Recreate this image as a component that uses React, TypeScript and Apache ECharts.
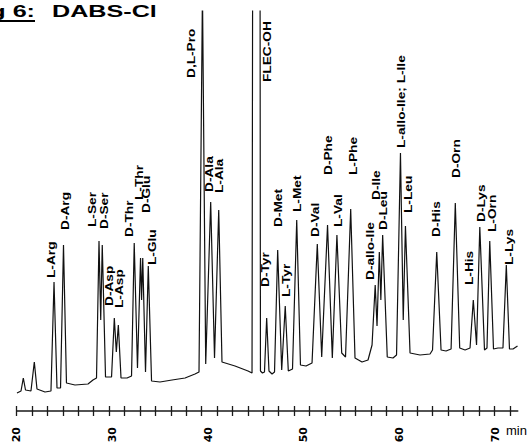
import React, { useEffect, useRef } from "react";
import * as echarts from "echarts";

// Retention time (min) and detector response (arbitrary units)
const times = [
  20.03, 20.45, 20.69, 20.92, 21.49, 21.84, 22.12, 22.96, 23.58, 23.9, 24.21, 24.58, 24.89, 25.2,
  26.09, 27.45, 27.97, 28.34, 28.6, 28.78, 28.94, 29.28, 29.91, 30.2, 30.41, 30.62, 30.9, 31.53,
  32.0, 32.28, 32.62, 32.94, 33.05, 33.17, 33.46, 33.75, 34.09, 34.97, 36.23, 37.59, 38.63, 39.05,
  39.41, 39.75, 40.27, 40.67, 41.11, 41.45, 42.81, 44.17, 44.59, 44.74, 45.37, 45.47, 45.68, 45.89,
  46.12, 46.36, 46.68, 46.94, 47.27, 47.69, 48.06, 48.38, 48.82, 49.26, 49.65, 50.23, 50.86, 51.41,
  51.87, 52.48, 52.98, 53.46, 53.96, 54.36, 54.9, 55.35, 56.08, 56.71, 57.13, 57.46, 57.65, 57.89,
  58.05, 58.24, 58.72, 59.32, 59.69, 60.1, 60.39, 60.62, 61.1, 62.14, 63.19, 63.45, 63.89, 64.34,
  64.86, 65.39, 65.83, 66.29, 66.85, 67.37, 67.71, 68.05, 68.39, 68.88, 69.14, 69.43, 69.82, 70.29,
  70.81, 71.16, 71.49, 71.86, 72.33,
];
const signal = [
  18, 20, 33, 21, 20, 49, 22, 19, 20, 129, 23, 23, 166, 28,
  26, 27, 31, 33, 170, 91, 166, 34, 34, 93, 59, 86, 33, 33,
  35, 168, 43, 153, 111, 153, 39, 145, 30, 29, 31, 33, 37, 39,
  420, 47, 209, 53, 201, 49, 45, 40, 38, 1000, 1000, 40, 38, 39,
  93, 40, 37, 39, 161, 41, 105, 40, 42, 191, 46, 45, 48, 167,
  54, 186, 53, 176, 58, 54, 202, 53, 49, 51, 66, 126, 85, 159,
  111, 176, 54, 53, 56, 258, 91, 185, 58, 56, 57, 61, 159, 61,
  60, 62, 208, 63, 61, 63, 111, 66, 184, 61, 63, 170, 62, 63,
  63, 146, 62, 62, 65,
];

// Peak annotations: name, and where its label starts (time, response)
const peakNames = [
  "L-Arg", "D-Arg", "L-Ser", "D-Ser", "D-Asp", "L-Asp", "D-Thr", "L-Thr", "D-Glu", "L-Glu",
  "D,L-Pro", "D-Ala", "L-Ala", "FLEC-OH", "D-Tyr", "D-Met", "L-Tyr", "L-Met", "D-Val", "D-Phe",
  "L-Val", "L-Phe", "D-allo-Ile", "D-Ile", "D-Leu", "L-allo-Ile; L-Ile", "L-Leu", "D-His", "D-Orn",
  "L-His", "D-Lys", "L-Orn", "L-Lys",
];
const labelTimes = [
  23.64, 25.15, 27.97, 29.23, 29.75, 30.79, 31.79, 32.83, 33.56, 34.19,
  38.29, 40.15, 41.24, 46.26, 46.05, 47.33, 48.24, 49.34, 51.27, 52.56,
  53.65, 55.24, 57.02, 57.65, 58.38, 60.23, 60.92, 63.89, 65.98,
  67.29, 68.59, 69.74, 71.47,
];
const labelLevels = [
  133, 181, 184, 182, 105, 103, 174, 211, 198, 146,
  333, 219, 218, 329, 124, 184, 114, 199, 174, 236,
  184, 236, 131, 211, 181, 263, 198, 174, 233,
  126, 189, 179, 146,
];

const xLabelValues = [20, 30, 40, 50, 60, 70];
const TICK_START = 20;
const TICK_STEP = 1.61;
const TICK_COUNT = 33;
const tickValues = Array.from({ length: TICK_COUNT }, (_, k) => +(TICK_START + k * TICK_STEP).toFixed(3));

const FONT = "'Liberation Sans', Arial, Helvetica, sans-serif";

export default function App() {
  const ref = useRef<HTMLDivElement>(null);
  useEffect(() => {
    if (!ref.current) return;
    const chart = echarts.init(ref.current, null, { renderer: "svg" });
    const X_MIN = 20;
    const X_MAX = 72.35;
    chart.setOption({
      animation: false,
      backgroundColor: "#ffffff",
      grid: { left: 16.7, right: 11.3, top: 11, bottom: 32, containLabel: false, outerBoundsMode: "none" },
      xAxis: [
        {
          type: "value",
          min: X_MIN,
          max: X_MAX,
          position: "bottom",
          axisLine: { show: true, onZero: false, lineStyle: { color: "#1a1a1a", width: 1.6 } },
          axisTick: { show: true, inside: false, length: 5, customValues: tickValues, lineStyle: { color: "#1a1a1a", width: 1.3 } },
          axisLabel: {
            show: true,
            customValues: xLabelValues,
            rotate: 90,
            margin: 16,
            color: "#000",
            fontFamily: "'DejaVu Sans', sans-serif",
            fontWeight: "bold",
            fontSize: 11,
          },
          splitLine: { show: false },
        },
        {
          type: "value",
          min: X_MIN,
          max: X_MAX,
          position: "bottom",
          axisLine: { show: false, onZero: false },
          axisTick: { show: true, inside: true, length: 5, customValues: tickValues, lineStyle: { color: "#1a1a1a", width: 1.3 } },
          axisLabel: { show: false },
          splitLine: { show: false },
        },
      ],
      yAxis: { type: "value", min: 0, max: 400, show: false, splitLine: { show: false } },
      series: [
        {
          type: "line",
          xAxisIndex: 0,
          data: times.map((t, i) => [t, signal[i]]),
          showSymbol: false,
          symbol: "none",
          clip: true,
          silent: true,
          lineStyle: { color: "#111", width: 1.2 },
        },
        {
          type: "custom",
          xAxisIndex: 0,
          silent: true,
          data: labelTimes.map((t, i) => [t, labelLevels[i]]),
          renderItem: (params: any, api: any) => {
            const p = api.coord([api.value(0), api.value(1)]);
            return {
              type: "text",
              x: p[0],
              y: p[1],
              rotation: Math.PI / 2,
              scaleX: 1.37,
              scaleY: 1,
              style: {
                text: peakNames[params.dataIndex],
                fontFamily: FONT,
                fontWeight: "bold",
                fontSize: 10,
                fill: "#000",
                align: "left",
                verticalAlign: "middle",
              },
            };
          },
        },
      ],
      graphic: [
        {
          type: "text",
          x: 35,
          y: 11,
          scaleX: 1.48,
          style: { text: "Fig 6:", fontFamily: FONT, fontWeight: "bold", fontSize: 17, fill: "#000", align: "right", verticalAlign: "middle" },
        },
        {
          type: "line",
          shape: { x1: 0, y1: 21, x2: 35, y2: 21 },
          style: { stroke: "#000", lineWidth: 2 },
        },
        {
          type: "text",
          x: 52,
          y: 11,
          scaleX: 1.48,
          style: { text: "DABS-Cl", fontFamily: FONT, fontWeight: "bold", fontSize: 17, fill: "#000", align: "left", verticalAlign: "middle" },
        },
        {
          type: "text",
          x: 506,
          y: 430.5,
          style: { text: "min", fontFamily: FONT, fontSize: 13, fill: "#000", align: "left", verticalAlign: "middle" },
        },
      ],
    });
    return () => chart.dispose();
  }, []);
  return <div ref={ref} style={{ position: "absolute", left: 0, top: 0, width: 529, height: 443 }} />;
}
